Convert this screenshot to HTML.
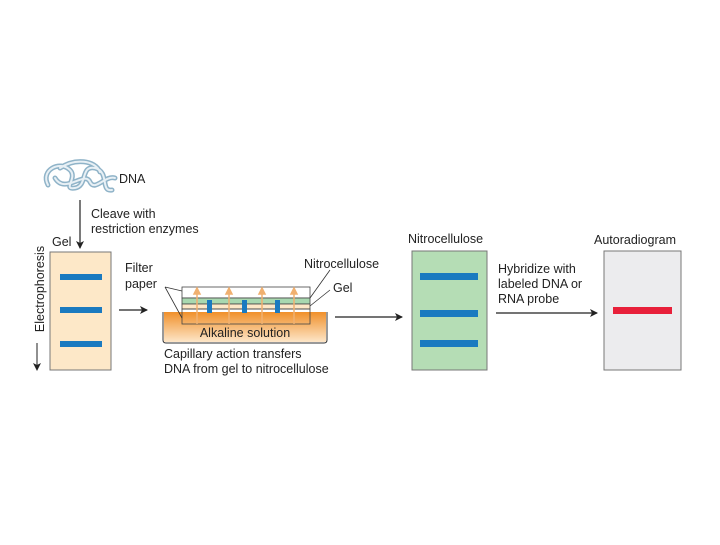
<!DOCTYPE html>
<html><head><style>
body{margin:0;background:#fff;}
svg text{font-family:"Liberation Sans",sans-serif;font-size:12.5px;fill:#222;}
</style></head><body>
<svg width="720" height="540" viewBox="0 0 720 540" xmlns="http://www.w3.org/2000/svg">
<defs>
<marker id="a" markerWidth="8" markerHeight="8" refX="7" refY="4" orient="auto" markerUnits="userSpaceOnUse"><path d="M0,0 L8,4 L0,8 L2,4 Z" fill="#222"/></marker>
<linearGradient id="o" x1="0" y1="0" x2="0" y2="1"><stop offset="0" stop-color="#f0902a"/><stop offset="1" stop-color="#fde6c8"/></linearGradient>
</defs>
<path d="M48,185 C40,170 60,160 70,170 C78,178 62,190 75,188 C88,186 80,165 95,168 C110,172 100,192 112,190 M55,178 C65,195 85,170 90,182 C95,192 105,175 115,178 M60,168 C75,158 95,160 100,172" fill="none" stroke="#8fb3c8" stroke-width="5" stroke-linecap="round"/>
<path d="M48,185 C40,170 60,160 70,170 C78,178 62,190 75,188 C88,186 80,165 95,168 C110,172 100,192 112,190 M55,178 C65,195 85,170 90,182 C95,192 105,175 115,178 M60,168 C75,158 95,160 100,172" fill="none" stroke="#e8f0f5" stroke-width="2" stroke-linecap="round"/>
<text x="119" y="183">DNA</text>
<line x1="80" y1="200" x2="80" y2="248" stroke="#222" stroke-width="1.2" marker-end="url(#a)"/>
<text x="91" y="218">Cleave with</text>
<text x="91" y="233">restriction enzymes</text>
<text x="52" y="246">Gel</text>
<text transform="translate(44,289) rotate(-90)" text-anchor="middle">Electrophoresis</text>
<line x1="37" y1="343" x2="37" y2="370" stroke="#222" stroke-width="1" marker-end="url(#a)"/>
<rect x="50" y="252" width="61" height="118" fill="#fde8c8" stroke="#777"/>
<rect x="60" y="274" width="42" height="6" fill="#1a7ac0"/>
<rect x="60" y="307" width="42" height="6" fill="#1a7ac0"/>
<rect x="60" y="341" width="42" height="6" fill="#1a7ac0"/>
<line x1="119" y1="310" x2="147" y2="310" stroke="#222" stroke-width="1.2" marker-end="url(#a)"/>
<text x="125" y="272">Filter</text>
<text x="125" y="288">paper</text>
<path d="M163,312 V340 Q163,343 166,343 H324 Q327,343 327,340 V312" fill="none" stroke="#333"/>
<rect x="164" y="312" width="162" height="30" fill="url(#o)"/>
<rect x="182" y="287" width="128" height="11" fill="#fff" stroke="#444" stroke-width="0.8"/>
<rect x="182" y="298" width="128" height="6" fill="#a8d8b0" stroke="#444" stroke-width="0.8"/>
<rect x="182" y="304" width="128" height="5" fill="#fde8c8" stroke="#444" stroke-width="0.8"/>
<rect x="182" y="309" width="128" height="15" fill="none" stroke="#444" stroke-width="0.8"/>
<rect x="207" y="300" width="5" height="13" fill="#1a7ac0"/>
<rect x="242" y="300" width="5" height="13" fill="#1a7ac0"/>
<rect x="275" y="300" width="5" height="13" fill="#1a7ac0"/>
<g stroke="#f0b070" stroke-width="1.5" fill="#f0b070">
<line x1="197" y1="324" x2="197" y2="292"/><path d="M194,294 L197,288 L200,294Z"/>
<line x1="229" y1="324" x2="229" y2="292"/><path d="M226,294 L229,288 L232,294Z"/>
<line x1="262" y1="324" x2="262" y2="292"/><path d="M259,294 L262,288 L265,294Z"/>
<line x1="294" y1="324" x2="294" y2="292"/><path d="M291,294 L294,288 L297,294Z"/>
</g>
<path d="M165,287 L182,291 M165,287 L182,318" stroke="#333" stroke-width="0.8" fill="none"/>
<path d="M310,298 L330,270 M310,306 L330,290" stroke="#333" stroke-width="0.8" fill="none"/>
<text x="304" y="268">Nitrocellulose</text>
<text x="333" y="292">Gel</text>
<text x="245" y="337" text-anchor="middle">Alkaline solution</text>
<text x="164" y="358">Capillary action transfers</text>
<text x="164" y="373">DNA from gel to nitrocellulose</text>
<line x1="335" y1="317" x2="402" y2="317" stroke="#222" stroke-width="1.2" marker-end="url(#a)"/>
<text x="408" y="243">Nitrocellulose</text>
<rect x="412" y="251" width="75" height="119" fill="#b5ddb5" stroke="#777"/>
<rect x="420" y="273" width="58" height="7" fill="#1a7ac0"/>
<rect x="420" y="310" width="58" height="7" fill="#1a7ac0"/>
<rect x="420" y="340" width="58" height="7" fill="#1a7ac0"/>
<text x="498" y="273">Hybridize with</text>
<text x="498" y="288">labeled DNA or</text>
<text x="498" y="303">RNA probe</text>
<line x1="496" y1="313" x2="597" y2="313" stroke="#222" stroke-width="1.2" marker-end="url(#a)"/>
<text x="594" y="244">Autoradiogram</text>
<rect x="604" y="251" width="77" height="119" fill="#ececee" stroke="#777"/>
<rect x="613" y="307" width="59" height="7" fill="#e8203a"/>
</svg>
</body></html>
